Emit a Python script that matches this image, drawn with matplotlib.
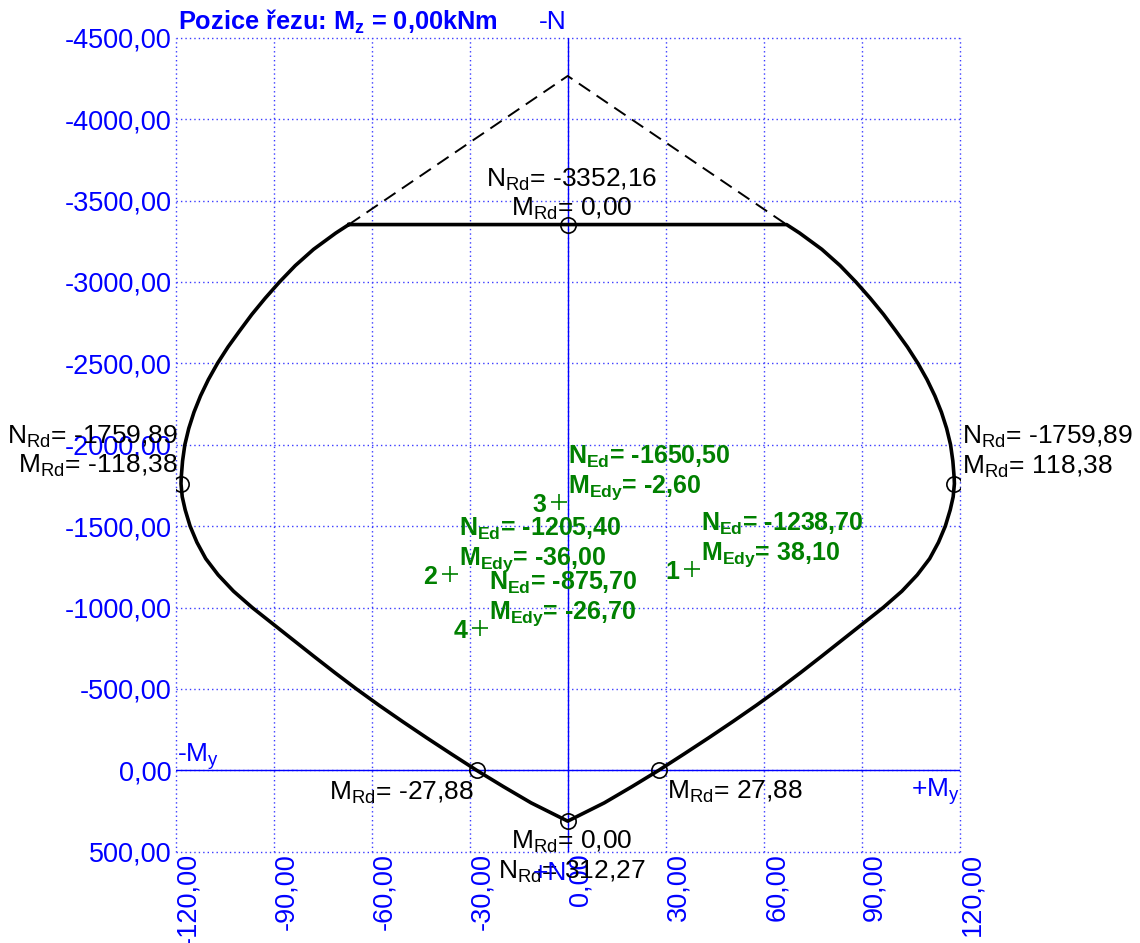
import matplotlib
matplotlib.use("Agg")
import matplotlib.pyplot as plt

plt.rcParams['font.family'] = ['Liberation Sans', 'DejaVu Sans']
plt.rcParams['mathtext.fontset'] = 'custom'
plt.rcParams['mathtext.rm'] = 'Liberation Sans'
plt.rcParams['mathtext.it'] = 'Liberation Sans:italic'
plt.rcParams['mathtext.bf'] = 'Liberation Sans:bold'

# --- interaction diagram envelope (M_y in kNm, N in kN, compression negative)
# left branch: from the cap down to the tension point
left_m = [-67.0, -71.0, -77.8, -83.4, -88.2, -92.6, -96.7, -100.4, -104.0,
          -107.2, -110.0, -112.4, -114.4, -116.0, -117.2, -117.9, -118.3,
          -118.38, -118.0, -117.1, -115.6, -113.5, -110.8, -107.0, -102.3,
          -96.6, -90.3, -84.0, -77.7, -71.3, -64.7, -57.8, -50.6, -43.2,
          -35.6, -27.88, -19.7, -11.2, 0.0]
left_n = [-3352.16, -3300, -3200, -3100, -3000, -2900, -2800, -2700, -2600,
          -2500, -2400, -2300, -2200, -2100, -2000, -1900, -1800,
          -1759.89, -1680, -1600, -1500, -1400, -1300, -1200, -1100,
          -1000, -900, -800, -700, -600, -500, -400, -300, -200,
          -100, 0.0, 100, 200, 312.27]
# right branch: from the tension point back up to the cap
right_m = [11.2, 19.7, 27.88, 35.6, 43.2, 50.6, 57.8, 64.7, 71.3, 77.7,
           84.0, 90.3, 96.6, 102.3, 107.0, 110.8, 113.5, 115.6, 117.1,
           118.0, 118.38, 118.3, 117.9, 117.2, 116.0, 114.4, 112.4, 110.0,
           107.2, 104.0, 100.4, 96.7, 92.6, 88.2, 83.4, 77.8, 71.0, 67.0]
right_n = [200, 100, 0.0, -100, -200, -300, -400, -500, -600, -700,
           -800, -900, -1000, -1100, -1200, -1300, -1400, -1500, -1600,
           -1680, -1759.89, -1800, -1900, -2000, -2100, -2200, -2300, -2400,
           -2500, -2600, -2700, -2800, -2900, -3000, -3100, -3200, -3300, -3352.16]

# cut-off part of the envelope above the N_Rd,max cap
cap_m = [-67.0, 0.0, 67.0]
cap_n = [-3352.16, -4265.0, -3352.16]

# characteristic resistance points
key_m = [0.0, -118.38, 118.38, -27.88, 27.88, 0.0]
key_n = [-3352.16, -1759.89, -1759.89, 0.0, 0.0, 312.27]

# design load combinations
ed_id = ['1', '2', '3', '4']
ed_m = [38.10, -36.00, -2.60, -26.70]
ed_n = [-1238.70, -1205.40, -1650.50, -875.70]

x_ticks = [-120, -90, -60, -30, 0, 30, 60, 90, 120]
y_ticks = [-4500, -4000, -3500, -3000, -2500, -2000, -1500, -1000, -500, 0, 500]


def cz(v):
    return f"{v:.2f}".replace('.', ',')


W, H = 1140, 943
fig = plt.figure(figsize=(W / 100, H / 100), dpi=100)
ax = fig.add_axes([175.7 / W, (H - 851.7) / H, 784 / W, 814 / H])
ax.set_xlim(-120, 120)
ax.set_ylim(500, -4500)
for s in ax.spines.values():
    s.set_visible(False)

ax.set_xticks(x_ticks)
ax.set_yticks(y_ticks)
ax.set_xticklabels([cz(v) for v in x_ticks], rotation=90, ha='left', va='top')
ax.set_yticklabels([cz(v) for v in y_ticks])
ax.tick_params(axis='both', length=0, colors='blue', labelsize=19.5)
ax.tick_params(axis='x', pad=1)
ax.tick_params(axis='y', pad=3)
ax.grid(True, color='#3a3aff', linestyle=(0, (1, 2.2)), linewidth=1.0)
for gl in ax.get_xgridlines() + ax.get_ygridlines():
    gl.set_clip_on(False)
ax.set_axisbelow(True)

ax.axhline(0, color='blue', lw=1.0, zorder=2)
ax.axvline(0, color='blue', lw=1.0, zorder=2)

ax.plot(cap_m, cap_n, color='black', lw=1.4, dashes=(7, 4), zorder=3)
env_m = left_m + right_m + [left_m[0]]
env_n = left_n + right_n + [left_n[0]]
ax.plot(env_m, env_n, color='black', lw=2.6, solid_joinstyle='round', zorder=4)
ax.plot(key_m, key_n, 'o', mfc='none', mec='black', ms=11, mew=1.2, zorder=5)
ax.plot(ed_m, ed_n, '+', color='green', ms=11, mew=1.2, zorder=5)

RD = '$_{\\mathrm{Rd}}$'


def lab(text, xy, dx, dy, ha, color='black', size=19, weight='normal'):
    ax.annotate(text, xy=xy, xytext=(dx, dy), textcoords='offset pixels',
                ha=ha, va='baseline', color=color, fontsize=size,
                fontweight=weight, annotation_clip=False, zorder=6)


# resistance labels
lab('N' + RD + '= ' + cz(key_n[0]), (key_m[0], key_n[0]), 4, 38, 'center')
lab('M' + RD + '= ' + cz(key_m[0]), (key_m[0], key_n[0]), 4, 9, 'center')
lab('N' + RD + '= ' + cz(key_n[1]), (key_m[1], key_n[1]), -3, 40, 'right')
lab('M' + RD + '= ' + cz(key_m[1]), (key_m[1], key_n[1]), -3, 11, 'right')
lab('N' + RD + '= ' + cz(key_n[2]), (key_m[2], key_n[2]), 8, 40, 'left')
lab('M' + RD + '= ' + cz(key_m[2]), (key_m[2], key_n[2]), 8, 10, 'left')
lab('M' + RD + '= ' + cz(key_m[3]), (key_m[3], key_n[3]), -3, -29, 'right')
lab('M' + RD + '= ' + cz(key_m[4]), (key_m[4], key_n[4]), 8, -28, 'left')
lab('M' + RD + '= ' + cz(key_m[5]), (key_m[5], key_n[5]), 4, -28, 'center')
lab('N' + RD + '= ' + cz(key_n[5]), (key_m[5], key_n[5]), 4, -58, 'center')

# design load labels
for i, m, n in zip(ed_id, ed_m, ed_n):
    lab(i, (m, n), -13, -10, 'right', 'green', 18, 'bold')
    lab('N$_{\\mathbf{Ed}}$= ' + cz(n), (m, n), 9, 38, 'left', 'green', 18, 'bold')
    lab('M$_{\\mathbf{Edy}}$= ' + cz(m), (m, n), 9, 9, 'left', 'green', 18, 'bold')

# axis direction labels
lab('-N', (0, -4500), -1, 8.4, 'right', 'blue')
lab('+N', (0, 500), -1, -28.3, 'right', 'blue')
lab('-M$_{\\mathrm{y}}$', (-120, 0), 1, 9, 'left', 'blue')
lab('+M$_{\\mathrm{y}}$', (120, 0), 0, -26, 'right', 'blue')

lab('Pozice řezu: M$_{\\mathbf{z}}$ = 0,00kNm', (-120, -4500), 2, 8.4, 'left',
    'blue', 18.3, 'bold')

fig.savefig('out.png', dpi=100)
